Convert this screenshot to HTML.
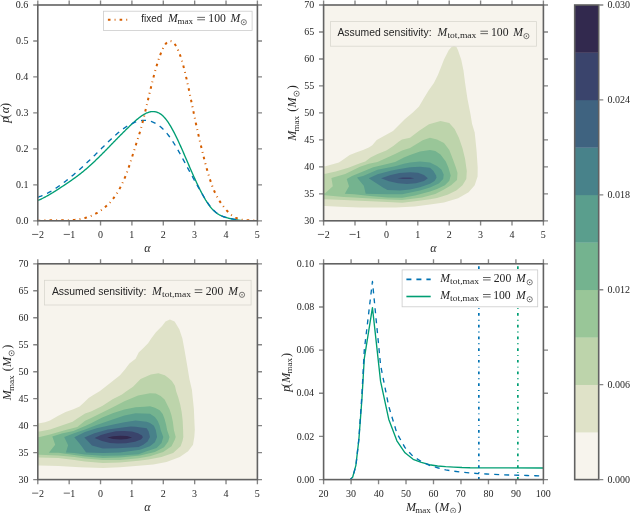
<!DOCTYPE html>
<html><head><meta charset="utf-8"><title>figure</title>
<style>html,body{margin:0;padding:0;background:#fff;overflow:hidden;width:630px;height:513px}svg{display:block;will-change:transform}</style>
</head><body>
<svg width="630" height="513" viewBox="0 0 630 513"><defs><clipPath id="clipTL"><rect x="37.80" y="5.00" width="219.60" height="215.80"/></clipPath><clipPath id="clipTR"><rect x="323.60" y="5.00" width="219.80" height="215.80"/></clipPath><clipPath id="clipBL"><rect x="37.80" y="263.80" width="219.60" height="215.80"/></clipPath><clipPath id="clipBR"><rect x="323.60" y="263.80" width="219.80" height="215.80"/></clipPath></defs>
<g clip-path="url(#clipTL)">
<polyline points="37.80,200.46 38.35,200.23 38.90,200.00 39.45,199.77 40.00,199.53 40.55,199.28 41.10,199.03 41.65,198.77 42.20,198.50 42.75,198.24 43.30,197.96 43.85,197.69 44.40,197.40 44.95,197.12 45.51,196.83 46.06,196.53 46.61,196.23 47.16,195.93 47.71,195.62 48.26,195.31 48.81,195.00 49.36,194.68 49.91,194.36 50.46,194.03 51.01,193.70 51.56,193.37 52.11,193.04 52.66,192.70 53.21,192.36 53.76,192.02 54.31,191.68 54.86,191.33 55.41,190.98 55.96,190.63 56.51,190.28 57.06,189.92 57.61,189.57 58.16,189.21 58.71,188.85 59.26,188.49 59.82,188.13 60.37,187.76 60.92,187.40 61.47,187.04 62.02,186.67 62.57,186.30 63.12,185.94 63.67,185.57 64.22,185.20 64.77,184.83 65.32,184.46 65.87,184.09 66.42,183.72 66.97,183.35 67.52,182.98 68.07,182.61 68.62,182.23 69.17,181.85 69.72,181.48 70.27,181.10 70.82,180.71 71.37,180.33 71.92,179.95 72.47,179.56 73.02,179.17 73.57,178.78 74.12,178.38 74.68,177.99 75.23,177.59 75.78,177.19 76.33,176.78 76.88,176.38 77.43,175.97 77.98,175.55 78.53,175.14 79.08,174.72 79.63,174.29 80.18,173.87 80.73,173.44 81.28,173.00 81.83,172.56 82.38,172.12 82.93,171.68 83.48,171.23 84.03,170.77 84.58,170.31 85.13,169.85 85.68,169.38 86.23,168.91 86.78,168.44 87.33,167.96 87.88,167.48 88.43,166.99 88.98,166.50 89.54,166.01 90.09,165.51 90.64,165.01 91.19,164.51 91.74,164.00 92.29,163.49 92.84,162.98 93.39,162.46 93.94,161.94 94.49,161.42 95.04,160.90 95.59,160.37 96.14,159.84 96.69,159.31 97.24,158.78 97.79,158.24 98.34,157.70 98.89,157.16 99.44,156.62 99.99,156.07 100.54,155.53 101.09,154.98 101.64,154.43 102.19,153.88 102.74,153.32 103.29,152.77 103.85,152.21 104.40,151.66 104.95,151.10 105.50,150.54 106.05,149.98 106.60,149.42 107.15,148.85 107.70,148.29 108.25,147.73 108.80,147.16 109.35,146.60 109.90,146.03 110.45,145.47 111.00,144.90 111.55,144.34 112.10,143.77 112.65,143.20 113.20,142.64 113.75,142.07 114.30,141.51 114.85,140.94 115.40,140.37 115.95,139.81 116.50,139.25 117.05,138.68 117.60,138.12 118.15,137.56 118.71,137.00 119.26,136.44 119.81,135.88 120.36,135.32 120.91,134.77 121.46,134.21 122.01,133.66 122.56,133.10 123.11,132.55 123.66,132.00 124.21,131.46 124.76,130.91 125.31,130.37 125.86,129.83 126.41,129.29 126.96,128.75 127.51,128.22 128.06,127.68 128.61,127.15 129.16,126.62 129.71,126.10 130.26,125.58 130.81,125.06 131.36,124.54 131.91,124.03 132.46,123.52 133.02,123.01 133.57,122.50 134.12,122.00 134.67,121.51 135.22,121.02 135.77,120.54 136.32,120.06 136.87,119.59 137.42,119.13 137.97,118.67 138.52,118.23 139.07,117.79 139.62,117.37 140.17,116.95 140.72,116.55 141.27,116.16 141.82,115.77 142.37,115.41 142.92,115.05 143.47,114.71 144.02,114.38 144.57,114.07 145.12,113.78 145.67,113.50 146.22,113.23 146.77,112.99 147.32,112.76 147.88,112.55 148.43,112.35 148.98,112.18 149.53,112.03 150.08,111.90 150.63,111.78 151.18,111.70 151.73,111.63 152.28,111.58 152.83,111.56 153.38,111.56 153.93,111.59 154.48,111.64 155.03,111.72 155.58,111.82 156.13,111.95 156.68,112.10 157.23,112.29 157.78,112.50 158.33,112.74 158.88,113.01 159.43,113.31 159.98,113.64 160.53,114.00 161.08,114.40 161.63,114.82 162.18,115.28 162.74,115.77 163.29,116.29 163.84,116.85 164.39,117.45 164.94,118.07 165.49,118.73 166.04,119.42 166.59,120.13 167.14,120.88 167.69,121.66 168.24,122.46 168.79,123.30 169.34,124.15 169.89,125.04 170.44,125.95 170.99,126.88 171.54,127.83 172.09,128.81 172.64,129.81 173.19,130.83 173.74,131.87 174.29,132.93 174.84,134.01 175.39,135.11 175.94,136.22 176.49,137.35 177.05,138.49 177.60,139.65 178.15,140.82 178.70,142.01 179.25,143.20 179.80,144.41 180.35,145.63 180.90,146.86 181.45,148.09 182.00,149.34 182.55,150.59 183.10,151.85 183.65,153.11 184.20,154.38 184.75,155.65 185.30,156.93 185.85,158.21 186.40,159.49 186.95,160.77 187.50,162.05 188.05,163.33 188.60,164.61 189.15,165.89 189.70,167.17 190.25,168.44 190.80,169.70 191.35,170.96 191.91,172.22 192.46,173.47 193.01,174.72 193.56,175.95 194.11,177.18 194.66,178.40 195.21,179.61 195.76,180.81 196.31,182.00 196.86,183.18 197.41,184.35 197.96,185.51 198.51,186.65 199.06,187.78 199.61,188.89 200.16,189.99 200.71,191.08 201.26,192.14 201.81,193.20 202.36,194.23 202.91,195.24 203.46,196.24 204.01,197.22 204.56,198.18 205.11,199.11 205.66,200.03 206.22,200.92 206.77,201.80 207.32,202.64 207.87,203.47 208.42,204.27 208.97,205.05 209.52,205.79 210.07,206.52 210.62,207.21 211.17,207.88 211.72,208.52 212.27,209.14 212.82,209.72 213.37,210.28 213.92,210.80 214.47,211.31 215.02,211.79 215.57,212.24 216.12,212.67 216.67,213.08 217.22,213.47 217.77,213.84 218.32,214.18 218.87,214.51 219.42,214.82 219.97,215.12 220.52,215.39 221.08,215.66 221.63,215.90 222.18,216.14 222.73,216.36 223.28,216.57 223.83,216.77 224.38,216.96 224.93,217.14 225.48,217.31 226.03,217.48 226.58,217.64 227.13,217.79 227.68,217.94 228.23,218.08 228.78,218.23 229.33,218.36 229.88,218.50 230.43,218.63 230.98,218.76 231.53,218.88 232.08,219.00 232.63,219.12 233.18,219.24 233.73,219.35 234.28,219.45 234.83,219.56 235.38,219.66 235.94,219.76 236.49,219.85 237.04,219.94 237.59,220.03 238.14,220.11 238.69,220.19 239.24,220.27 239.79,220.34 240.34,220.41 240.89,220.48 241.44,220.54 241.99,220.60 242.54,220.65 243.09,220.71 243.64,220.75 244.19,220.80 244.74,220.80 245.29,220.80 245.84,220.80 246.39,220.80 246.94,220.80 247.49,220.80 248.04,220.80 248.59,220.80 249.14,220.80 249.69,220.80 250.25,220.80 250.80,220.80 251.35,220.80 251.90,220.80 252.45,220.80 253.00,220.80 253.55,220.80 254.10,220.80 254.65,220.80 255.20,220.80 255.75,220.80 256.30,220.80 256.85,220.80 257.40,220.80" fill="none" stroke="#009e73" stroke-width="1.35" stroke-linejoin="round"/>
<polyline points="37.80,197.24 38.35,197.06 38.90,196.88 39.45,196.68 40.00,196.48 40.55,196.28 41.10,196.07 41.65,195.85 42.20,195.62 42.75,195.39 43.30,195.15 43.85,194.91 44.40,194.66 44.95,194.40 45.51,194.14 46.06,193.88 46.61,193.60 47.16,193.32 47.71,193.04 48.26,192.75 48.81,192.46 49.36,192.15 49.91,191.85 50.46,191.54 51.01,191.22 51.56,190.90 52.11,190.57 52.66,190.24 53.21,189.91 53.76,189.57 54.31,189.22 54.86,188.87 55.41,188.52 55.96,188.16 56.51,187.79 57.06,187.43 57.61,187.05 58.16,186.68 58.71,186.30 59.26,185.91 59.82,185.52 60.37,185.13 60.92,184.73 61.47,184.33 62.02,183.93 62.57,183.52 63.12,183.11 63.67,182.69 64.22,182.27 64.77,181.85 65.32,181.43 65.87,181.00 66.42,180.57 66.97,180.13 67.52,179.69 68.07,179.25 68.62,178.81 69.17,178.36 69.72,177.91 70.27,177.46 70.82,177.00 71.37,176.55 71.92,176.09 72.47,175.62 73.02,175.16 73.57,174.69 74.12,174.22 74.68,173.75 75.23,173.28 75.78,172.80 76.33,172.32 76.88,171.84 77.43,171.36 77.98,170.88 78.53,170.39 79.08,169.90 79.63,169.41 80.18,168.92 80.73,168.43 81.28,167.93 81.83,167.43 82.38,166.93 82.93,166.43 83.48,165.93 84.03,165.42 84.58,164.91 85.13,164.40 85.68,163.89 86.23,163.38 86.78,162.86 87.33,162.35 87.88,161.83 88.43,161.31 88.98,160.78 89.54,160.26 90.09,159.73 90.64,159.20 91.19,158.68 91.74,158.14 92.29,157.61 92.84,157.08 93.39,156.54 93.94,156.00 94.49,155.46 95.04,154.92 95.59,154.38 96.14,153.83 96.69,153.29 97.24,152.74 97.79,152.19 98.34,151.65 98.89,151.10 99.44,150.55 99.99,150.00 100.54,149.45 101.09,148.90 101.64,148.35 102.19,147.80 102.74,147.25 103.29,146.70 103.85,146.16 104.40,145.61 104.95,145.07 105.50,144.52 106.05,143.98 106.60,143.44 107.15,142.90 107.70,142.37 108.25,141.83 108.80,141.30 109.35,140.78 109.90,140.25 110.45,139.73 111.00,139.21 111.55,138.69 112.10,138.18 112.65,137.67 113.20,137.17 113.75,136.67 114.30,136.17 114.85,135.68 115.40,135.19 115.95,134.71 116.50,134.23 117.05,133.76 117.60,133.29 118.15,132.83 118.71,132.37 119.26,131.92 119.81,131.48 120.36,131.04 120.91,130.60 121.46,130.18 122.01,129.76 122.56,129.35 123.11,128.94 123.66,128.54 124.21,128.15 124.76,127.77 125.31,127.39 125.86,127.02 126.41,126.66 126.96,126.31 127.51,125.97 128.06,125.63 128.61,125.30 129.16,124.98 129.71,124.68 130.26,124.38 130.81,124.09 131.36,123.81 131.91,123.53 132.46,123.27 133.02,123.02 133.57,122.78 134.12,122.55 134.67,122.33 135.22,122.12 135.77,121.92 136.32,121.74 136.87,121.56 137.42,121.40 137.97,121.24 138.52,121.10 139.07,120.97 139.62,120.86 140.17,120.75 140.72,120.66 141.27,120.58 141.82,120.51 142.37,120.46 142.92,120.42 143.47,120.39 144.02,120.38 144.57,120.38 145.12,120.39 145.67,120.42 146.22,120.46 146.77,120.51 147.32,120.58 147.88,120.67 148.43,120.77 148.98,120.88 149.53,121.01 150.08,121.15 150.63,121.31 151.18,121.48 151.73,121.67 152.28,121.87 152.83,122.09 153.38,122.33 153.93,122.58 154.48,122.84 155.03,123.12 155.58,123.42 156.13,123.74 156.68,124.07 157.23,124.41 157.78,124.78 158.33,125.16 158.88,125.56 159.43,125.97 159.98,126.40 160.53,126.85 161.08,127.32 161.63,127.80 162.18,128.30 162.74,128.82 163.29,129.36 163.84,129.91 164.39,130.49 164.94,131.08 165.49,131.69 166.04,132.32 166.59,132.96 167.14,133.63 167.69,134.31 168.24,135.02 168.79,135.74 169.34,136.48 169.89,137.24 170.44,138.01 170.99,138.81 171.54,139.61 172.09,140.44 172.64,141.28 173.19,142.13 173.74,143.00 174.29,143.88 174.84,144.77 175.39,145.68 175.94,146.59 176.49,147.52 177.05,148.46 177.60,149.41 178.15,150.37 178.70,151.33 179.25,152.31 179.80,153.29 180.35,154.28 180.90,155.28 181.45,156.28 182.00,157.29 182.55,158.30 183.10,159.32 183.65,160.34 184.20,161.37 184.75,162.40 185.30,163.43 185.85,164.46 186.40,165.49 186.95,166.53 187.50,167.56 188.05,168.59 188.60,169.62 189.15,170.65 189.70,171.68 190.25,172.71 190.80,173.73 191.35,174.75 191.91,175.76 192.46,176.77 193.01,177.77 193.56,178.77 194.11,179.77 194.66,180.76 195.21,181.74 195.76,182.72 196.31,183.70 196.86,184.67 197.41,185.64 197.96,186.61 198.51,187.57 199.06,188.54 199.61,189.50 200.16,190.45 200.71,191.41 201.26,192.36 201.81,193.31 202.36,194.25 202.91,195.18 203.46,196.11 204.01,197.02 204.56,197.93 205.11,198.82 205.66,199.70 206.22,200.57 206.77,201.42 207.32,202.26 207.87,203.07 208.42,203.87 208.97,204.64 209.52,205.40 210.07,206.13 210.62,206.84 211.17,207.52 211.72,208.18 212.27,208.81 212.82,209.41 213.37,209.98 213.92,210.53 214.47,211.06 215.02,211.55 215.57,212.03 216.12,212.48 216.67,212.91 217.22,213.32 217.77,213.70 218.32,214.07 218.87,214.42 219.42,214.74 219.97,215.06 220.52,215.35 221.08,215.62 221.63,215.89 222.18,216.13 222.73,216.36 223.28,216.58 223.83,216.79 224.38,216.98 224.93,217.16 225.48,217.34 226.03,217.50 226.58,217.65 227.13,217.80 227.68,217.93 228.23,218.06 228.78,218.19 229.33,218.31 229.88,218.42 230.43,218.53 230.98,218.64 231.53,218.75 232.08,218.85 232.63,218.95 233.18,219.06 233.73,219.16 234.28,219.26 234.83,219.37 235.38,219.48 235.94,219.59 236.49,219.71 237.04,219.83 237.59,219.96 238.14,220.10 238.69,220.24 239.24,220.39 239.79,220.55 240.34,220.71 240.89,220.80 241.44,220.80 241.99,220.80 242.54,220.80 243.09,220.80 243.64,220.80 244.19,220.80 244.74,220.80 245.29,220.80 245.84,220.80 246.39,220.80 246.94,220.80 247.49,220.80 248.04,220.80 248.59,220.80 249.14,220.80 249.69,220.80 250.25,220.80 250.80,220.80 251.35,220.80 251.90,220.80 252.45,220.80 253.00,220.80 253.55,220.80 254.10,220.80 254.65,220.80 255.20,220.80 255.75,220.80 256.30,220.80 256.85,220.80 257.40,220.80" fill="none" stroke="#0072b2" stroke-width="1.35" stroke-dasharray="5 5" stroke-linejoin="round"/>
<polyline points="37.80,220.80 38.35,220.80 38.90,220.80 39.45,220.74 40.00,220.69 40.55,220.63 41.10,220.59 41.65,220.54 42.20,220.50 42.75,220.46 43.30,220.43 43.85,220.40 44.40,220.37 44.95,220.35 45.51,220.33 46.06,220.31 46.61,220.29 47.16,220.28 47.71,220.26 48.26,220.25 48.81,220.25 49.36,220.24 49.91,220.24 50.46,220.23 51.01,220.23 51.56,220.23 52.11,220.24 52.66,220.24 53.21,220.24 53.76,220.25 54.31,220.25 54.86,220.26 55.41,220.27 55.96,220.28 56.51,220.28 57.06,220.29 57.61,220.30 58.16,220.31 58.71,220.31 59.26,220.32 59.82,220.33 60.37,220.33 60.92,220.34 61.47,220.34 62.02,220.35 62.57,220.35 63.12,220.35 63.67,220.35 64.22,220.35 64.77,220.35 65.32,220.34 65.87,220.34 66.42,220.33 66.97,220.32 67.52,220.30 68.07,220.29 68.62,220.27 69.17,220.25 69.72,220.23 70.27,220.20 70.82,220.17 71.37,220.14 71.92,220.11 72.47,220.07 73.02,220.03 73.57,219.98 74.12,219.93 74.68,219.88 75.23,219.82 75.78,219.76 76.33,219.69 76.88,219.62 77.43,219.55 77.98,219.47 78.53,219.38 79.08,219.30 79.63,219.20 80.18,219.10 80.73,219.00 81.28,218.89 81.83,218.77 82.38,218.65 82.93,218.53 83.48,218.39 84.03,218.26 84.58,218.11 85.13,217.96 85.68,217.80 86.23,217.64 86.78,217.47 87.33,217.29 87.88,217.11 88.43,216.92 88.98,216.72 89.54,216.51 90.09,216.30 90.64,216.08 91.19,215.85 91.74,215.62 92.29,215.37 92.84,215.12 93.39,214.86 93.94,214.59 94.49,214.32 95.04,214.03 95.59,213.74 96.14,213.44 96.69,213.13 97.24,212.81 97.79,212.48 98.34,212.14 98.89,211.79 99.44,211.43 99.99,211.06 100.54,210.69 101.09,210.30 101.64,209.90 102.19,209.49 102.74,209.08 103.29,208.65 103.85,208.21 104.40,207.76 104.95,207.30 105.50,206.83 106.05,206.35 106.60,205.85 107.15,205.34 107.70,204.82 108.25,204.28 108.80,203.73 109.35,203.16 109.90,202.58 110.45,201.98 111.00,201.36 111.55,200.72 112.10,200.06 112.65,199.38 113.20,198.68 113.75,197.96 114.30,197.21 114.85,196.45 115.40,195.65 115.95,194.84 116.50,194.00 117.05,193.13 117.60,192.24 118.15,191.32 118.71,190.37 119.26,189.39 119.81,188.39 120.36,187.35 120.91,186.28 121.46,185.18 122.01,184.05 122.56,182.89 123.11,181.69 123.66,180.46 124.21,179.19 124.76,177.89 125.31,176.55 125.86,175.17 126.41,173.75 126.96,172.30 127.51,170.81 128.06,169.28 128.61,167.70 129.16,166.09 129.71,164.43 130.26,162.75 130.81,161.04 131.36,159.30 131.91,157.55 132.46,155.79 133.02,154.02 133.57,152.25 134.12,150.48 134.67,148.73 135.22,146.98 135.77,145.26 136.32,143.54 136.87,141.83 137.42,140.10 137.97,138.37 138.52,136.61 139.07,134.83 139.62,133.01 140.17,131.15 140.72,129.24 141.27,127.27 141.82,125.24 142.37,123.15 142.92,121.01 143.47,118.81 144.02,116.58 144.57,114.31 145.12,112.01 145.67,109.68 146.22,107.34 146.77,104.99 147.32,102.63 147.88,100.27 148.43,97.91 148.98,95.57 149.53,93.25 150.08,90.95 150.63,88.66 151.18,86.41 151.73,84.18 152.28,81.98 152.83,79.81 153.38,77.68 153.93,75.58 154.48,73.52 155.03,71.50 155.58,69.53 156.13,67.60 156.68,65.72 157.23,63.89 157.78,62.12 158.33,60.40 158.88,58.74 159.43,57.13 159.98,55.60 160.53,54.12 161.08,52.71 161.63,51.38 162.18,50.11 162.74,48.92 163.29,47.81 163.84,46.77 164.39,45.82 164.94,44.95 165.49,44.16 166.04,43.47 166.59,42.86 167.14,42.34 167.69,41.91 168.24,41.57 168.79,41.31 169.34,41.15 169.89,41.07 170.44,41.07 170.99,41.17 171.54,41.35 172.09,41.62 172.64,41.97 173.19,42.41 173.74,42.94 174.29,43.55 174.84,44.25 175.39,45.03 175.94,45.90 176.49,46.85 177.05,47.89 177.60,49.02 178.15,50.22 178.70,51.52 179.25,52.90 179.80,54.36 180.35,55.90 180.90,57.53 181.45,59.25 182.00,61.04 182.55,62.93 183.10,64.89 183.65,66.93 184.20,69.06 184.75,71.25 185.30,73.52 185.85,75.84 186.40,78.23 186.95,80.66 187.50,83.14 188.05,85.67 188.60,88.23 189.15,90.83 189.70,93.45 190.25,96.10 190.80,98.76 191.35,101.43 191.91,104.12 192.46,106.80 193.01,109.48 193.56,112.16 194.11,114.82 194.66,117.46 195.21,120.08 195.76,122.68 196.31,125.24 196.86,127.77 197.41,130.28 197.96,132.75 198.51,135.20 199.06,137.63 199.61,140.02 200.16,142.39 200.71,144.74 201.26,147.07 201.81,149.37 202.36,151.64 202.91,153.89 203.46,156.10 204.01,158.29 204.56,160.44 205.11,162.55 205.66,164.63 206.22,166.67 206.77,168.67 207.32,170.63 207.87,172.55 208.42,174.41 208.97,176.24 209.52,178.01 210.07,179.73 210.62,181.40 211.17,183.02 211.72,184.58 212.27,186.08 212.82,187.52 213.37,188.90 213.92,190.22 214.47,191.49 215.02,192.70 215.57,193.85 216.12,194.96 216.67,196.02 217.22,197.04 217.77,198.02 218.32,198.97 218.87,199.87 219.42,200.75 219.97,201.60 220.52,202.43 221.08,203.23 221.63,204.01 222.18,204.78 222.73,205.53 223.28,206.27 223.83,206.99 224.38,207.69 224.93,208.37 225.48,209.04 226.03,209.68 226.58,210.31 227.13,210.92 227.68,211.51 228.23,212.08 228.78,212.63 229.33,213.16 229.88,213.67 230.43,214.16 230.98,214.62 231.53,215.07 232.08,215.49 232.63,215.89 233.18,216.26 233.73,216.62 234.28,216.95 234.83,217.26 235.38,217.55 235.94,217.81 236.49,218.06 237.04,218.30 237.59,218.51 238.14,218.71 238.69,218.89 239.24,219.05 239.79,219.20 240.34,219.34 240.89,219.47 241.44,219.58 241.99,219.68 242.54,219.77 243.09,219.84 243.64,219.91 244.19,219.97 244.74,220.03 245.29,220.07 245.84,220.11 246.39,220.15 246.94,220.18 247.49,220.20 248.04,220.22 248.59,220.24 249.14,220.26 249.69,220.27 250.25,220.29 250.80,220.31 251.35,220.32 251.90,220.34 252.45,220.36 253.00,220.39 253.55,220.42 254.10,220.45 254.65,220.49 255.20,220.54 255.75,220.59 256.30,220.65 256.85,220.72 257.40,220.80" fill="none" stroke="#d55e00" stroke-width="2.0" stroke-dasharray="2.6 4.1 0.9 4.1" stroke-linejoin="round"/>
</g>
<rect x="103.4" y="11.2" width="148.7" height="19.3" fill="#fff" fill-opacity="1" stroke="#cccccc" stroke-width="0.8"/>
<line x1="107.9" y1="19.7" x2="131" y2="19.7" stroke="#d55e00" stroke-width="2" stroke-dasharray="2.6 4.1 0.9 4.1"/>
<path d="M37.80 220.80V225.40M37.80 5.00V0.40M69.17 220.80V225.40M69.17 5.00V0.40M100.54 220.80V225.40M100.54 5.00V0.40M131.91 220.80V225.40M131.91 5.00V0.40M163.29 220.80V225.40M163.29 5.00V0.40M194.66 220.80V225.40M194.66 5.00V0.40M226.03 220.80V225.40M226.03 5.00V0.40M257.40 220.80V225.40M257.40 5.00V0.40M37.80 220.80H33.20M257.40 220.80H262.00M37.80 184.83H33.20M257.40 184.83H262.00M37.80 148.87H33.20M257.40 148.87H262.00M37.80 112.90H33.20M257.40 112.90H262.00M37.80 76.93H33.20M257.40 76.93H262.00M37.80 40.97H33.20M257.40 40.97H262.00M37.80 5.00H33.20M257.40 5.00H262.00" stroke="#858585" stroke-width="1.35" fill="none"/>
<rect x="32.10" y="233.95" width="6.2" height="0.7" fill="#262626"/><text x="39.06" y="237.90" font-family='"Liberation Serif", serif' font-size="10.0" fill="#262626">2</text><rect x="63.71" y="233.95" width="6.2" height="0.7" fill="#262626"/><text x="70.23" y="237.90" font-family='"Liberation Serif", serif' font-size="10.0" fill="#262626">1</text><text x="98.04" y="237.90" font-family='"Liberation Serif", serif' font-size="10.0" fill="#262626">0</text><text x="129.28" y="237.90" font-family='"Liberation Serif", serif' font-size="10.0" fill="#262626">1</text><text x="160.84" y="237.90" font-family='"Liberation Serif", serif' font-size="10.0" fill="#262626">2</text><text x="192.11" y="237.90" font-family='"Liberation Serif", serif' font-size="10.0" fill="#262626">3</text><text x="223.51" y="237.90" font-family='"Liberation Serif", serif' font-size="10.0" fill="#262626">4</text><text x="254.80" y="237.90" font-family='"Liberation Serif", serif' font-size="10.0" fill="#262626">5</text><text x="15.88" y="224.00" font-family='"Liberation Serif", serif' font-size="10.0" fill="#262626">0.0</text><text x="16.10" y="188.03" font-family='"Liberation Serif", serif' font-size="10.0" fill="#262626">0.1</text><text x="16.05" y="152.07" font-family='"Liberation Serif", serif' font-size="10.0" fill="#262626">0.2</text><text x="15.89" y="116.10" font-family='"Liberation Serif", serif' font-size="10.0" fill="#262626">0.3</text><text x="15.66" y="80.13" font-family='"Liberation Serif", serif' font-size="10.0" fill="#262626">0.4</text><text x="15.89" y="44.17" font-family='"Liberation Serif", serif' font-size="10.0" fill="#262626">0.5</text><text x="15.80" y="8.20" font-family='"Liberation Serif", serif' font-size="10.0" fill="#262626">0.6</text>
<rect x="37.80" y="5.00" width="219.60" height="215.80" fill="none" stroke="#626262" stroke-width="1.6"/>
<g clip-path="url(#clipBR)">
<polyline points="323.60,479.60 350.25,479.60 352.72,477.01 355.88,465.36 358.88,439.46 361.87,399.75 364.29,358.54 372.45,307.61 380.58,381.41 388.72,419.18 396.88,440.76 405.01,452.84 413.14,459.31 421.30,462.34 429.43,464.71 437.57,466.00 445.70,466.65 453.86,467.08 461.99,467.52 470.12,467.73 543.40,467.95" fill="none" stroke="#009e73" stroke-width="1.35" stroke-linejoin="round"/>
<polyline points="323.60,479.60 350.25,479.60 352.72,477.01 355.88,466.00 358.88,438.60 361.87,395.44 364.29,350.12 372.45,281.50 380.58,365.23 388.72,406.23 396.88,433.20 405.01,447.66 413.14,456.51 421.30,461.47 429.43,465.36 437.57,467.73 445.70,469.89 453.86,471.18 461.99,472.26 470.12,472.91 478.28,473.56 486.42,473.99 494.55,474.42 502.71,474.85 510.84,475.07 518.97,475.28 527.11,475.50 535.27,475.72 543.40,475.93" fill="none" stroke="#0072b2" stroke-width="1.35" stroke-dasharray="5 5" stroke-dashoffset="6.1" stroke-linejoin="round"/>
<line x1="478.83" y1="479.6" x2="478.83" y2="263.8" stroke="#0072b2" stroke-width="1.7" stroke-dasharray="2.7 4.05 0.9 4.05"/>
<line x1="517.85" y1="479.6" x2="517.85" y2="263.8" stroke="#009e73" stroke-width="1.7" stroke-dasharray="2.7 4.05 0.9 4.05"/>
</g>
<rect x="402.1" y="269.9" width="135.6" height="36.9" fill="#fff" fill-opacity="1" stroke="#cccccc" stroke-width="0.8"/>
<line x1="406.4" y1="279.4" x2="430.7" y2="279.4" stroke="#0072b2" stroke-width="1.6" stroke-dasharray="5 5"/>
<line x1="406.4" y1="296.5" x2="430.7" y2="296.5" stroke="#009e73" stroke-width="1.6"/>
<path d="M323.60 479.60V484.20M323.60 263.80V259.20M351.08 479.60V484.20M351.08 263.80V259.20M378.55 479.60V484.20M378.55 263.80V259.20M406.02 479.60V484.20M406.02 263.80V259.20M433.50 479.60V484.20M433.50 263.80V259.20M460.98 479.60V484.20M460.98 263.80V259.20M488.45 479.60V484.20M488.45 263.80V259.20M515.92 479.60V484.20M515.92 263.80V259.20M543.40 479.60V484.20M543.40 263.80V259.20M323.60 479.60H319.00M543.40 479.60H548.00M323.60 436.44H319.00M543.40 436.44H548.00M323.60 393.28H319.00M543.40 393.28H548.00M323.60 350.12H319.00M543.40 350.12H548.00M323.60 306.96H319.00M543.40 306.96H548.00M323.60 263.80H319.00M543.40 263.80H548.00" stroke="#858585" stroke-width="1.35" fill="none"/>
<text x="318.57" y="496.70" font-family='"Liberation Serif", serif' font-size="10.0" fill="#262626">20</text><text x="346.03" y="496.70" font-family='"Liberation Serif", serif' font-size="10.0" fill="#262626">30</text><text x="373.64" y="496.70" font-family='"Liberation Serif", serif' font-size="10.0" fill="#262626">40</text><text x="400.92" y="496.70" font-family='"Liberation Serif", serif' font-size="10.0" fill="#262626">50</text><text x="428.48" y="496.70" font-family='"Liberation Serif", serif' font-size="10.0" fill="#262626">60</text><text x="455.84" y="496.70" font-family='"Liberation Serif", serif' font-size="10.0" fill="#262626">70</text><text x="483.45" y="496.70" font-family='"Liberation Serif", serif' font-size="10.0" fill="#262626">80</text><text x="510.95" y="496.70" font-family='"Liberation Serif", serif' font-size="10.0" fill="#262626">90</text><text x="535.65" y="496.70" font-family='"Liberation Serif", serif' font-size="10.0" fill="#262626">100</text><text x="296.68" y="482.80" font-family='"Liberation Serif", serif' font-size="10.0" fill="#262626">0.00</text><text x="296.85" y="439.64" font-family='"Liberation Serif", serif' font-size="10.0" fill="#262626">0.02</text><text x="296.46" y="396.48" font-family='"Liberation Serif", serif' font-size="10.0" fill="#262626">0.04</text><text x="296.60" y="353.32" font-family='"Liberation Serif", serif' font-size="10.0" fill="#262626">0.06</text><text x="296.68" y="310.16" font-family='"Liberation Serif", serif' font-size="10.0" fill="#262626">0.08</text><text x="296.68" y="267.00" font-family='"Liberation Serif", serif' font-size="10.0" fill="#262626">0.10</text>
<rect x="323.60" y="263.80" width="219.80" height="215.80" fill="none" stroke="#626262" stroke-width="1.6"/>
<g clip-path="url(#clipTR)">
<rect x="323.60" y="5.00" width="219.80" height="215.80" fill="#f7f4ed"/>
<polygon points="320.0,166.5 325.5,166.2 338.9,162.4 344.0,158.9 349.7,155.1 356.0,152.5 363.0,150.0 368.8,147.5 372.3,145.3 376.7,140.0 383.0,136.5 393.0,131.0 401.0,123.0 405.0,118.9 412.8,112.6 419.0,106.4 423.7,98.6 428.4,90.8 433.9,83.0 437.8,75.2 440.9,67.4 444.0,59.6 448.7,50.2 451.5,47.0 454.1,45.8 456.5,47.0 458.0,50.2 461.2,59.6 463.5,70.5 465.1,83.0 467.4,98.6 470.5,114.2 472.1,124.0 474.7,132.5 476.5,150.1 477.7,167.6 477.6,176.4 474.7,185.2 468.6,192.2 458.1,198.3 444.0,202.5 430.0,204.5 414.7,206.5 395.7,207.5 383.0,207.6 360.0,207.5 340.0,206.8 325.0,206.0 320.0,206.0" fill="#dfe2c8"/>
<polygon points="320.0,173.9 325.5,173.8 335.7,171.6 348.4,167.8 360.0,163.2 365.3,161.5 370.5,157.5 377.5,154.0 386.3,150.5 393.3,146.1 398.6,141.8 402.0,139.5 410.0,137.8 419.5,130.6 429.0,124.3 440.5,121.1 449.3,122.9 454.6,129.0 458.9,137.8 462.5,148.3 465.1,158.9 466.8,171.1 466.3,179.0 462.5,185.2 456.3,190.4 447.5,194.8 437.0,198.1 430.0,199.2 415.0,201.2 402.2,202.8 387.6,201.9 354.3,200.5 344.0,200.0 325.0,199.2 320.0,199.2" fill="#bdd4ab"/>
<polygon points="331.4,178.1 345.2,174.1 360.0,166.8 368.8,163.7 377.5,161.9 386.3,158.0 395.1,154.0 402.1,150.5 410.0,147.9 422.7,140.2 430.0,137.8 437.0,139.6 444.0,143.1 449.3,150.1 452.8,158.9 455.9,167.6 457.5,173.0 457.0,179.9 451.1,185.2 444.0,189.6 435.3,194.0 422.0,197.5 402.2,200.0 387.6,199.5 354.3,197.6 344.0,197.0 325.0,195.3 320.0,195.3 320.0,193.8 325.1,193.2 332.8,186.2" fill="#99c698"/>
<polygon points="346.7,179.0 352.0,176.0 363.0,171.6 373.2,167.2 385.0,164.5 395.1,161.9 403.9,157.5 410.0,154.9 420.0,151.5 430.0,150.1 435.3,151.0 440.5,154.5 445.8,161.5 448.4,167.6 450.7,175.5 449.3,180.8 444.9,185.2 437.0,189.0 430.0,191.5 415.0,195.5 402.2,197.8 387.6,197.6 370.0,196.0 354.3,194.3 344.8,193.8 349.0,186.2" fill="#74b38f"/>
<polygon points="357.0,177.5 363.0,176.0 377.5,169.8 395.1,166.3 403.9,163.7 410.0,162.4 420.0,161.5 430.0,162.4 437.0,165.9 441.4,169.4 443.7,174.6 443.2,179.0 438.8,183.4 430.0,187.5 420.0,190.5 402.2,194.2 387.6,194.3 365.7,193.8 363.8,185.7 359.0,180.0" fill="#5a9e8d"/>
<polygon points="368.8,178.2 377.5,174.2 390.7,170.7 399.5,169.0 410.0,167.2 420.0,166.8 430.0,167.8 433.5,171.1 436.1,175.5 436.5,177.8 434.5,181.0 430.0,183.8 420.0,187.2 410.0,189.5 400.0,190.5 387.6,190.0 382.9,187.6 371.4,180.0" fill="#48828a"/>
<polygon points="381.1,178.2 390.7,175.1 399.5,172.9 410.0,172.2 418.0,172.8 424.0,175.0 427.9,178.3 424.0,181.0 416.0,183.3 407.0,184.0 398.0,183.3 389.0,181.2" fill="#3f6380"/>
<polygon points="397.4,178.3 403.0,177.5 410.0,177.4 414.4,178.2 410.0,179.1 403.0,179.1" fill="#3a446c"/>
</g>
<path d="M323.60 220.80V225.40M323.60 5.00V0.40M355.00 220.80V225.40M355.00 5.00V0.40M386.40 220.80V225.40M386.40 5.00V0.40M417.80 220.80V225.40M417.80 5.00V0.40M449.20 220.80V225.40M449.20 5.00V0.40M480.60 220.80V225.40M480.60 5.00V0.40M512.00 220.80V225.40M512.00 5.00V0.40M543.40 220.80V225.40M543.40 5.00V0.40M323.60 220.80H319.00M543.40 220.80H548.00M323.60 193.83H319.00M543.40 193.83H548.00M323.60 166.85H319.00M543.40 166.85H548.00M323.60 139.88H319.00M543.40 139.88H548.00M323.60 112.90H319.00M543.40 112.90H548.00M323.60 85.93H319.00M543.40 85.93H548.00M323.60 58.95H319.00M543.40 58.95H548.00M323.60 31.97H319.00M543.40 31.97H548.00M323.60 5.00H319.00M543.40 5.00H548.00" stroke="#858585" stroke-width="1.35" fill="none"/>
<rect x="317.90" y="233.95" width="6.2" height="0.7" fill="#262626"/><text x="324.86" y="237.90" font-family='"Liberation Serif", serif' font-size="10.0" fill="#262626">2</text><rect x="349.54" y="233.95" width="6.2" height="0.7" fill="#262626"/><text x="356.06" y="237.90" font-family='"Liberation Serif", serif' font-size="10.0" fill="#262626">1</text><text x="383.90" y="237.90" font-family='"Liberation Serif", serif' font-size="10.0" fill="#262626">0</text><text x="415.16" y="237.90" font-family='"Liberation Serif", serif' font-size="10.0" fill="#262626">1</text><text x="446.76" y="237.90" font-family='"Liberation Serif", serif' font-size="10.0" fill="#262626">2</text><text x="478.06" y="237.90" font-family='"Liberation Serif", serif' font-size="10.0" fill="#262626">3</text><text x="509.48" y="237.90" font-family='"Liberation Serif", serif' font-size="10.0" fill="#262626">4</text><text x="540.80" y="237.90" font-family='"Liberation Serif", serif' font-size="10.0" fill="#262626">5</text><text x="304.18" y="224.00" font-family='"Liberation Serif", serif' font-size="10.0" fill="#262626">30</text><text x="304.19" y="197.03" font-family='"Liberation Serif", serif' font-size="10.0" fill="#262626">35</text><text x="304.18" y="170.05" font-family='"Liberation Serif", serif' font-size="10.0" fill="#262626">40</text><text x="304.19" y="143.07" font-family='"Liberation Serif", serif' font-size="10.0" fill="#262626">45</text><text x="304.18" y="116.10" font-family='"Liberation Serif", serif' font-size="10.0" fill="#262626">50</text><text x="304.19" y="89.13" font-family='"Liberation Serif", serif' font-size="10.0" fill="#262626">55</text><text x="304.18" y="62.15" font-family='"Liberation Serif", serif' font-size="10.0" fill="#262626">60</text><text x="304.19" y="35.17" font-family='"Liberation Serif", serif' font-size="10.0" fill="#262626">65</text><text x="304.18" y="8.20" font-family='"Liberation Serif", serif' font-size="10.0" fill="#262626">70</text>
<rect x="323.60" y="5.00" width="219.80" height="215.80" fill="none" stroke="#626262" stroke-width="1.6"/>
<g clip-path="url(#clipBL)">
<rect x="37.80" y="263.80" width="219.60" height="215.80" fill="#f7f4ed"/>
<polygon points="35.0,423.5 39.5,423.3 45.0,422.2 50.0,420.6 57.8,415.9 65.6,412.0 73.4,409.3 79.6,406.6 84.5,402.1 88.6,398.0 93.3,395.0 100.0,391.1 110.2,382.9 120.0,375.2 124.7,369.7 129.4,363.5 135.6,358.8 138.7,352.6 143.4,347.9 148.1,343.2 151.2,338.5 155.9,332.3 162.1,326.0 165.5,321.5 169.9,319.5 174.6,321.4 179.3,329.2 182.4,338.5 184.7,351.0 187.1,365.0 189.4,379.1 191.9,389.7 192.9,399.5 193.9,409.2 194.3,419.0 194.8,430.0 194.3,437.0 193.0,444.7 188.1,451.3 179.8,457.1 166.5,462.1 153.3,464.6 138.6,465.7 120.0,467.2 102.9,467.9 80.0,467.2 58.4,466.1 39.7,465.6 35.0,465.6" fill="#dfe2c8"/>
<polygon points="35.0,431.6 39.7,431.6 50.0,429.5 61.7,425.5 72.6,421.8 77.3,418.6 85.1,413.6 91.0,411.4 102.2,406.1 113.0,399.0 122.0,394.5 126.0,391.5 133.0,386.7 140.6,379.0 150.8,374.6 158.4,373.3 164.8,375.2 168.5,378.0 171.9,381.0 174.9,385.8 176.3,391.7 178.3,397.5 180.2,404.4 181.7,412.2 182.7,420.9 183.1,430.0 183.3,437.0 182.5,441.0 180.6,446.3 173.1,453.0 161.5,457.1 148.3,459.6 138.6,460.7 120.0,462.5 102.9,462.9 85.0,461.5 74.3,460.0 58.4,458.0 39.7,457.5 35.0,457.5" fill="#bdd4ab"/>
<polygon points="35.0,436.9 39.7,436.9 50.0,434.5 65.6,430.0 77.3,427.0 85.1,420.8 91.1,418.0 102.2,412.5 113.3,407.0 124.4,401.2 138.1,395.6 150.0,393.2 155.8,393.6 160.7,396.1 164.6,399.5 167.1,404.4 169.5,409.2 171.4,415.1 172.9,421.9 173.9,430.0 175.7,437.0 174.8,439.7 171.5,446.3 163.2,452.1 149.9,456.3 138.6,458.3 120.0,460.0 102.9,460.0 85.0,458.5 74.3,457.0 58.4,455.4 39.7,454.8 35.0,454.8" fill="#99c698"/>
<polygon points="52.5,437.1 52.3,436.4 61.7,433.5 73.4,431.0 85.1,426.0 91.1,423.3 102.2,417.6 113.3,413.0 124.4,409.4 135.6,407.2 144.4,406.7 150.0,406.3 154.9,407.8 159.7,410.2 162.7,414.1 164.6,419.0 166.1,424.8 167.1,430.0 169.5,437.0 168.2,441.4 164.0,447.2 154.9,452.1 140.0,455.5 120.0,457.5 102.9,457.9 85.0,456.5 74.3,455.0 58.4,452.7 48.8,452.7 55.2,444.7" fill="#74b38f"/>
<polygon points="64.2,437.0 73.4,433.5 85.1,429.5 96.7,425.0 113.3,419.2 124.4,415.6 135.6,413.3 150.0,413.8 154.9,417.0 157.8,420.9 159.7,425.8 160.7,430.0 163.3,437.0 161.5,443.0 156.6,448.0 146.6,451.3 138.6,454.3 120.0,455.5 102.9,455.7 85.0,454.5 74.3,453.0 65.9,452.5 68.1,445.2" fill="#5a9e8d"/>
<polygon points="74.3,437.3 85.0,432.0 96.7,428.3 113.3,424.4 124.4,422.2 135.6,420.6 146.7,421.7 150.0,422.9 153.9,425.8 155.8,430.0 157.1,437.0 154.9,442.2 149.9,446.3 140.0,449.8 120.0,452.5 102.9,452.9 86.1,452.5 80.7,445.0" fill="#48828a"/>
<polygon points="84.4,437.6 94.4,433.2 107.8,429.4 124.4,427.2 130.8,426.4 135.6,426.7 146.7,428.3 148.6,431.4 150.0,437.0 147.5,441.4 143.3,444.7 138.6,447.1 118.1,448.3 102.9,448.6 92.0,445.5" fill="#3f6380"/>
<polygon points="94.6,437.9 101.0,435.0 108.0,433.0 116.0,431.3 124.0,430.9 132.0,431.5 138.0,433.2 142.0,435.5 142.9,437.2 141.0,439.5 135.0,441.8 126.0,443.3 118.0,443.6 110.0,443.0 102.0,441.0" fill="#3a446c"/>
<polygon points="107.3,437.6 113.0,436.2 120.6,435.7 127.0,435.9 132.1,437.4 127.0,438.9 120.6,439.4 113.0,439.0" fill="#32294e"/>
</g>
<path d="M37.80 479.60V484.20M37.80 263.80V259.20M69.17 479.60V484.20M69.17 263.80V259.20M100.54 479.60V484.20M100.54 263.80V259.20M131.91 479.60V484.20M131.91 263.80V259.20M163.29 479.60V484.20M163.29 263.80V259.20M194.66 479.60V484.20M194.66 263.80V259.20M226.03 479.60V484.20M226.03 263.80V259.20M257.40 479.60V484.20M257.40 263.80V259.20M37.80 479.60H33.20M257.40 479.60H262.00M37.80 452.62H33.20M257.40 452.62H262.00M37.80 425.65H33.20M257.40 425.65H262.00M37.80 398.68H33.20M257.40 398.68H262.00M37.80 371.70H33.20M257.40 371.70H262.00M37.80 344.73H33.20M257.40 344.73H262.00M37.80 317.75H33.20M257.40 317.75H262.00M37.80 290.77H33.20M257.40 290.77H262.00M37.80 263.80H33.20M257.40 263.80H262.00" stroke="#858585" stroke-width="1.35" fill="none"/>
<rect x="32.10" y="492.75" width="6.2" height="0.7" fill="#262626"/><text x="39.06" y="496.70" font-family='"Liberation Serif", serif' font-size="10.0" fill="#262626">2</text><rect x="63.71" y="492.75" width="6.2" height="0.7" fill="#262626"/><text x="70.23" y="496.70" font-family='"Liberation Serif", serif' font-size="10.0" fill="#262626">1</text><text x="98.04" y="496.70" font-family='"Liberation Serif", serif' font-size="10.0" fill="#262626">0</text><text x="129.28" y="496.70" font-family='"Liberation Serif", serif' font-size="10.0" fill="#262626">1</text><text x="160.84" y="496.70" font-family='"Liberation Serif", serif' font-size="10.0" fill="#262626">2</text><text x="192.11" y="496.70" font-family='"Liberation Serif", serif' font-size="10.0" fill="#262626">3</text><text x="223.51" y="496.70" font-family='"Liberation Serif", serif' font-size="10.0" fill="#262626">4</text><text x="254.80" y="496.70" font-family='"Liberation Serif", serif' font-size="10.0" fill="#262626">5</text><text x="18.38" y="482.80" font-family='"Liberation Serif", serif' font-size="10.0" fill="#262626">30</text><text x="18.39" y="455.82" font-family='"Liberation Serif", serif' font-size="10.0" fill="#262626">35</text><text x="18.38" y="428.85" font-family='"Liberation Serif", serif' font-size="10.0" fill="#262626">40</text><text x="18.39" y="401.88" font-family='"Liberation Serif", serif' font-size="10.0" fill="#262626">45</text><text x="18.38" y="374.90" font-family='"Liberation Serif", serif' font-size="10.0" fill="#262626">50</text><text x="18.39" y="347.93" font-family='"Liberation Serif", serif' font-size="10.0" fill="#262626">55</text><text x="18.38" y="320.95" font-family='"Liberation Serif", serif' font-size="10.0" fill="#262626">60</text><text x="18.39" y="293.97" font-family='"Liberation Serif", serif' font-size="10.0" fill="#262626">65</text><text x="18.38" y="267.00" font-family='"Liberation Serif", serif' font-size="10.0" fill="#262626">70</text>
<rect x="37.80" y="263.80" width="219.60" height="215.80" fill="none" stroke="#626262" stroke-width="1.6"/>
<rect x="330.5" y="21.6" width="206" height="24.6" fill="#f7f4ed" fill-opacity="1" stroke="#d9d7cf" stroke-width="0.8"/>
<rect x="44.5" y="280.3" width="206.6" height="24.7" fill="#f7f4ed" fill-opacity="1" stroke="#d9d7cf" stroke-width="0.8"/>
<rect x="574.7" y="432.14" width="24.00" height="47.76" fill="#f7f4ed"/>
<rect x="574.7" y="384.68" width="24.00" height="47.76" fill="#dfe2c8"/>
<rect x="574.7" y="337.22" width="24.00" height="47.76" fill="#bdd4ab"/>
<rect x="574.7" y="289.76" width="24.00" height="47.76" fill="#99c698"/>
<rect x="574.7" y="242.30" width="24.00" height="47.76" fill="#74b38f"/>
<rect x="574.7" y="194.84" width="24.00" height="47.76" fill="#5a9e8d"/>
<rect x="574.7" y="147.38" width="24.00" height="47.76" fill="#48828a"/>
<rect x="574.7" y="99.92" width="24.00" height="47.76" fill="#3f6380"/>
<rect x="574.7" y="52.46" width="24.00" height="47.76" fill="#3a446c"/>
<rect x="574.7" y="5.00" width="24.00" height="47.76" fill="#32294e"/>
<rect x="574.7" y="5.0" width="24.00" height="474.60" fill="none" stroke="#626262" stroke-width="1.6"/>
<path d="M598.7 479.60H603.3000000000001M598.7 384.68H603.3000000000001M598.7 289.76H603.3000000000001M598.7 194.84H603.3000000000001M598.7 99.92H603.3000000000001M598.7 5.00H603.3000000000001" stroke="#858585" stroke-width="1.35"/>
<text x="607.62" y="482.80" font-family='"Liberation Serif", serif' font-size="10.0" fill="#262626">0.000</text><text x="607.62" y="387.88" font-family='"Liberation Serif", serif' font-size="10.0" fill="#262626">0.006</text><text x="607.62" y="292.96" font-family='"Liberation Serif", serif' font-size="10.0" fill="#262626">0.012</text><text x="607.62" y="198.04" font-family='"Liberation Serif", serif' font-size="10.0" fill="#262626">0.018</text><text x="607.62" y="103.12" font-family='"Liberation Serif", serif' font-size="10.0" fill="#262626">0.024</text><text x="607.62" y="8.20" font-family='"Liberation Serif", serif' font-size="10.0" fill="#262626">0.030</text>
<text x="144.37" y="251.80" font-family='"Liberation Serif", serif' font-size="12.0" font-style="italic" fill="#262626">α</text>
<text x="430.17" y="251.80" font-family='"Liberation Serif", serif' font-size="12.0" font-style="italic" fill="#262626">α</text>
<text x="144.37" y="511.00" font-family='"Liberation Serif", serif' font-size="12.0" font-style="italic" fill="#262626">α</text>
<text x="405.94" y="510.50" font-family='"Liberation Serif", serif' font-size="12.0" font-style="italic" fill="#262626">M</text><text transform="translate(415.21,512.70) scale(1.054,1)" font-family='"Liberation Serif", serif' font-size="8.6" fill="#262626">max</text><text x="435.07" y="510.50" font-family='"Liberation Serif", serif' font-size="12.0" fill="#262626">(</text><text x="439.24" y="510.50" font-family='"Liberation Serif", serif' font-size="12.0" font-style="italic" fill="#262626">M</text><circle cx="453.10" cy="510.70" r="2.6" fill="none" stroke="#262626" stroke-width="0.6"/><circle cx="453.10" cy="510.70" r="0.66" fill="#262626"/><text x="457.61" y="510.50" font-family='"Liberation Serif", serif' font-size="12.0" fill="#262626">)</text>
<g transform="translate(9.30,113.00) rotate(-90)"><text x="-9.70" y="0.00" font-family='"Liberation Serif", serif' font-size="12.0" font-style="italic" fill="#262626">p</text><text x="-5.13" y="0.00" font-family='"Liberation Serif", serif' font-size="12.0" fill="#262626">(</text><text x="-0.36" y="0.00" font-family='"Liberation Serif", serif' font-size="12.0" font-style="italic" fill="#262626">α</text><text x="5.91" y="0.00" font-family='"Liberation Serif", serif' font-size="12.0" fill="#262626">)</text></g>
<g transform="translate(296.40,113.00) rotate(-90)"><text x="-27.86" y="0.00" font-family='"Liberation Serif", serif' font-size="12.0" font-style="italic" fill="#262626">M</text><text transform="translate(-18.59,2.20) scale(1.054,1)" font-family='"Liberation Serif", serif' font-size="8.6" fill="#262626">max</text><text x="1.27" y="0.00" font-family='"Liberation Serif", serif' font-size="12.0" fill="#262626">(</text><text x="5.44" y="0.00" font-family='"Liberation Serif", serif' font-size="12.0" font-style="italic" fill="#262626">M</text><circle cx="19.30" cy="0.20" r="2.6" fill="none" stroke="#262626" stroke-width="0.6"/><circle cx="19.30" cy="0.20" r="0.66" fill="#262626"/><text x="23.81" y="0.00" font-family='"Liberation Serif", serif' font-size="12.0" fill="#262626">)</text></g>
<g transform="translate(11.40,372.00) rotate(-90)"><text x="-28.36" y="0.00" font-family='"Liberation Serif", serif' font-size="12.0" font-style="italic" fill="#262626">M</text><text transform="translate(-19.09,2.20) scale(1.054,1)" font-family='"Liberation Serif", serif' font-size="8.6" fill="#262626">max</text><text x="0.77" y="0.00" font-family='"Liberation Serif", serif' font-size="12.0" fill="#262626">(</text><text x="4.94" y="0.00" font-family='"Liberation Serif", serif' font-size="12.0" font-style="italic" fill="#262626">M</text><circle cx="18.80" cy="0.20" r="2.6" fill="none" stroke="#262626" stroke-width="0.6"/><circle cx="18.80" cy="0.20" r="0.66" fill="#262626"/><text x="23.31" y="0.00" font-family='"Liberation Serif", serif' font-size="12.0" fill="#262626">)</text></g>
<g transform="translate(289.80,372.20) rotate(-90)"><text x="-19.60" y="0.00" font-family='"Liberation Serif", serif' font-size="12.0" font-style="italic" fill="#262626">p</text><text x="-15.03" y="0.00" font-family='"Liberation Serif", serif' font-size="12.0" fill="#262626">(</text><text x="-10.66" y="0.00" font-family='"Liberation Serif", serif' font-size="12.0" font-style="italic" fill="#262626">M</text><text transform="translate(-1.39,2.20) scale(1.054,1)" font-family='"Liberation Serif", serif' font-size="8.6" fill="#262626">max</text><text x="15.21" y="0.00" font-family='"Liberation Serif", serif' font-size="12.0" fill="#262626">)</text></g>
<text transform="translate(141.16,22.10) scale(0.998,1)" font-family='"Liberation Sans", sans-serif' font-size="10.0" fill="#262626">fixed</text>
<text x="168.04" y="22.10" font-family='"Liberation Serif", serif' font-size="11.7" font-style="italic" fill="#262626">M</text><text transform="translate(177.41,23.70) scale(1.133,1)" font-family='"Liberation Serif", serif' font-size="8.0" fill="#262626">max</text><rect x="197.2" y="16.90" width="7.8" height="0.7" fill="#262626"/><rect x="197.2" y="19.50" width="7.8" height="0.7" fill="#262626"/><text x="208.37" y="22.10" font-family='"Liberation Serif", serif' font-size="11.7" fill="#262626">100</text><text x="230.54" y="22.10" font-family='"Liberation Serif", serif' font-size="11.7" font-style="italic" fill="#262626">M</text><circle cx="243.80" cy="22.20" r="2.6" fill="none" stroke="#262626" stroke-width="0.6"/><circle cx="243.80" cy="22.20" r="0.66" fill="#262626"/>
<text transform="translate(337.38,36.00) scale(0.964,1)" font-family='"Liberation Sans", sans-serif' font-size="10.8" fill="#262626">Assumed sensitivity:</text>
<text x="437.44" y="36.00" font-family='"Liberation Serif", serif' font-size="11.7" font-style="italic" fill="#262626">M</text><text transform="translate(447.41,37.80) scale(1.198,1)" font-family='"Liberation Serif", serif' font-size="8.0" fill="#262626">tot,max</text><rect x="480.40" y="30.80" width="7.6" height="0.7" fill="#262626"/><rect x="480.40" y="33.40" width="7.6" height="0.7" fill="#262626"/><text x="490.97" y="36.00" font-family='"Liberation Serif", serif' font-size="11.7" fill="#262626">100</text><text x="513.14" y="36.00" font-family='"Liberation Serif", serif' font-size="11.7" font-style="italic" fill="#262626">M</text><circle cx="526.40" cy="36.10" r="2.6" fill="none" stroke="#262626" stroke-width="0.6"/><circle cx="526.40" cy="36.10" r="0.66" fill="#262626"/>
<text transform="translate(51.88,294.60) scale(0.968,1)" font-family='"Liberation Sans", sans-serif' font-size="10.8" fill="#262626">Assumed sensitivity:</text>
<text x="152.04" y="294.70" font-family='"Liberation Serif", serif' font-size="11.7" font-style="italic" fill="#262626">M</text><text transform="translate(162.01,296.50) scale(1.198,1)" font-family='"Liberation Serif", serif' font-size="8.0" fill="#262626">tot,max</text><rect x="194.70" y="289.50" width="7.6" height="0.7" fill="#262626"/><rect x="194.70" y="292.10" width="7.6" height="0.7" fill="#262626"/><text x="205.69" y="294.70" font-family='"Liberation Serif", serif' font-size="11.7" fill="#262626">200</text><text x="228.14" y="294.70" font-family='"Liberation Serif", serif' font-size="11.7" font-style="italic" fill="#262626">M</text><circle cx="242.00" cy="294.80" r="2.6" fill="none" stroke="#262626" stroke-width="0.6"/><circle cx="242.00" cy="294.80" r="0.66" fill="#262626"/>
<text x="440.14" y="282.20" font-family='"Liberation Serif", serif' font-size="11.7" font-style="italic" fill="#262626">M</text><text transform="translate(450.11,284.00) scale(1.198,1)" font-family='"Liberation Serif", serif' font-size="8.0" fill="#262626">tot,max</text><rect x="483.00" y="277.00" width="7.6" height="0.7" fill="#262626"/><rect x="483.00" y="279.60" width="7.6" height="0.7" fill="#262626"/><text x="493.69" y="282.20" font-family='"Liberation Serif", serif' font-size="11.7" fill="#262626">200</text><text x="515.94" y="282.20" font-family='"Liberation Serif", serif' font-size="11.7" font-style="italic" fill="#262626">M</text><circle cx="529.70" cy="282.30" r="2.6" fill="none" stroke="#262626" stroke-width="0.6"/><circle cx="529.70" cy="282.30" r="0.66" fill="#262626"/>
<text x="440.14" y="299.20" font-family='"Liberation Serif", serif' font-size="11.7" font-style="italic" fill="#262626">M</text><text transform="translate(450.11,301.00) scale(1.198,1)" font-family='"Liberation Serif", serif' font-size="8.0" fill="#262626">tot,max</text><rect x="483.00" y="294.00" width="7.6" height="0.7" fill="#262626"/><rect x="483.00" y="296.60" width="7.6" height="0.7" fill="#262626"/><text x="493.17" y="299.20" font-family='"Liberation Serif", serif' font-size="11.7" fill="#262626">100</text><text x="515.94" y="299.20" font-family='"Liberation Serif", serif' font-size="11.7" font-style="italic" fill="#262626">M</text><circle cx="529.70" cy="299.30" r="2.6" fill="none" stroke="#262626" stroke-width="0.6"/><circle cx="529.70" cy="299.30" r="0.66" fill="#262626"/></svg>
</body></html>
